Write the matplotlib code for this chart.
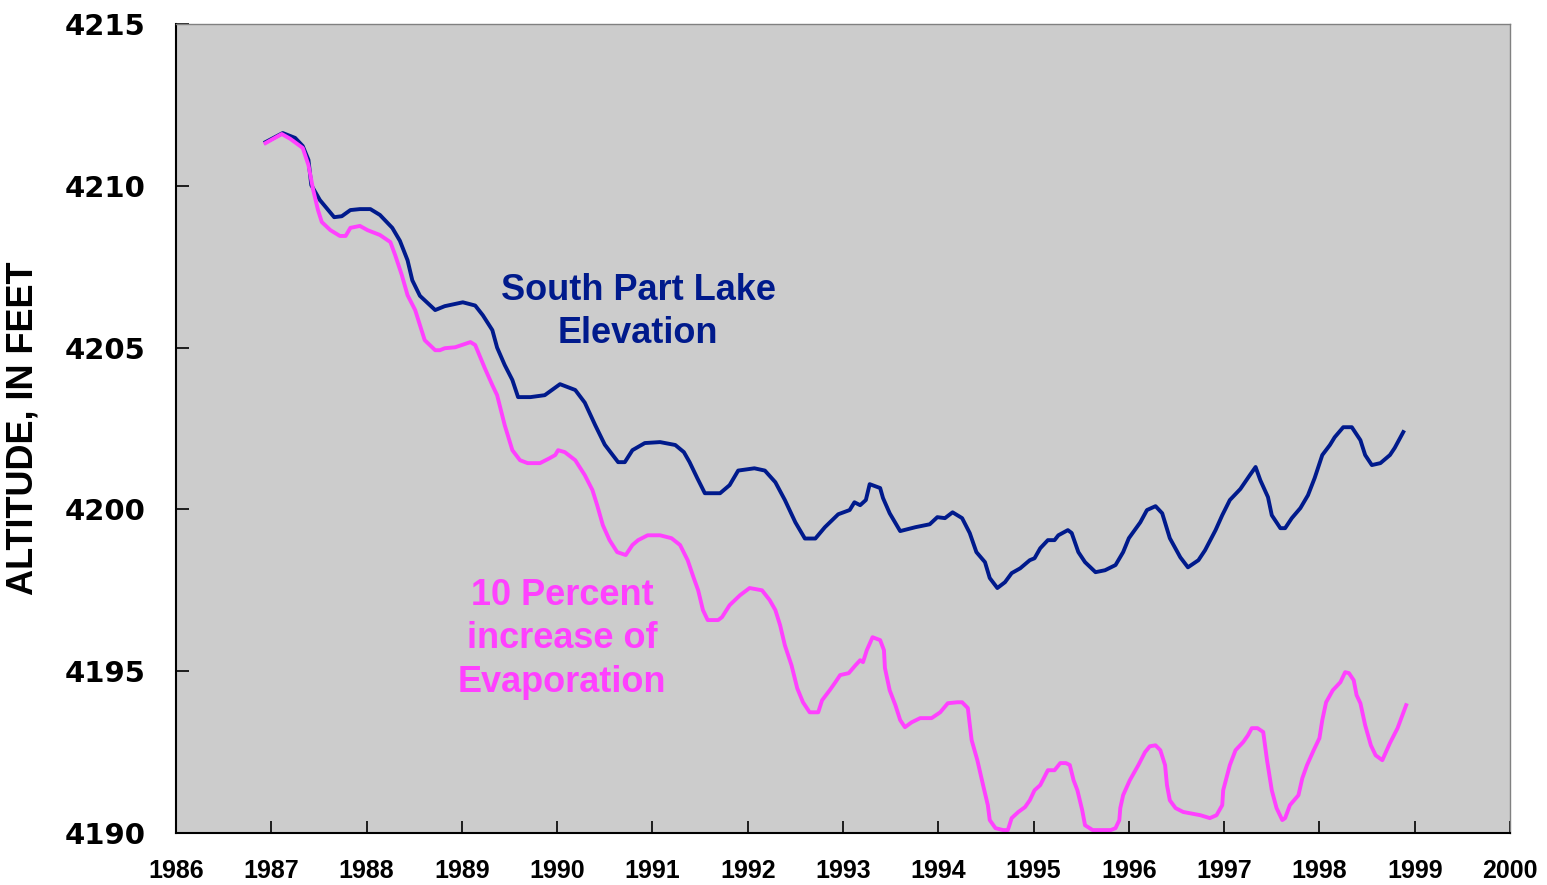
import numpy as np
import matplotlib
matplotlib.use("Agg")
import matplotlib.pyplot as plt

# South Part Lake elevation (decimal year, feet)
lake_year = [1986.94, 1987.12, 1987.25, 1987.33, 1987.39, 1987.42, 1987.51, 1987.66, 1987.74, 1987.83,
             1987.93, 1988.04, 1988.14, 1988.27, 1988.35, 1988.43, 1988.48, 1988.56, 1988.72, 1988.82,
             1989.01, 1989.14, 1989.22, 1989.32, 1989.37, 1989.45, 1989.53, 1989.59, 1989.72, 1989.87,
             1990.03, 1990.19, 1990.29, 1990.40, 1990.50, 1990.64, 1990.71, 1990.79, 1990.92, 1991.08,
             1991.24, 1991.33, 1991.39, 1991.47, 1991.55, 1991.71, 1991.81, 1991.90, 1992.07, 1992.18,
             1992.29, 1992.39, 1992.50, 1992.60, 1992.71, 1992.81, 1992.95, 1993.07, 1993.12, 1993.18,
             1993.24, 1993.28, 1993.39, 1993.42, 1993.49, 1993.60, 1993.76, 1993.91, 1993.99, 1994.07,
             1994.15, 1994.25, 1994.33, 1994.40, 1994.49, 1994.54, 1994.62, 1994.70, 1994.77, 1994.86,
             1994.96, 1995.01, 1995.07, 1995.15, 1995.22, 1995.26, 1995.36, 1995.40, 1995.47, 1995.54,
             1995.65, 1995.75, 1995.86, 1995.94, 1996.00, 1996.12, 1996.19, 1996.28, 1996.35, 1996.43,
             1996.54, 1996.62, 1996.73, 1996.80, 1996.91, 1996.98, 1997.06, 1997.17, 1997.27, 1997.33,
             1997.38, 1997.46, 1997.50, 1997.59, 1997.64, 1997.71, 1997.80, 1997.88, 1997.95, 1998.03,
             1998.11, 1998.16, 1998.25, 1998.34, 1998.43, 1998.48, 1998.55, 1998.64, 1998.74, 1998.79,
             1998.88]
lake_alt = [4211.35, 4211.63, 4211.48, 4211.23, 4210.80, 4210.02, 4209.56, 4209.03, 4209.06, 4209.25,
            4209.28, 4209.28, 4209.10, 4208.70, 4208.30, 4207.70, 4207.08, 4206.60, 4206.16, 4206.28,
            4206.40, 4206.30, 4206.00, 4205.54, 4205.00, 4204.46, 4204.00, 4203.47, 4203.47, 4203.53,
            4203.87, 4203.69, 4203.30, 4202.60, 4202.00, 4201.46, 4201.46, 4201.83, 4202.05, 4202.08,
            4201.99, 4201.77, 4201.46, 4200.97, 4200.50, 4200.50, 4200.75, 4201.20, 4201.27, 4201.20,
            4200.84, 4200.29, 4199.60, 4199.10, 4199.10, 4199.45, 4199.85, 4199.98, 4200.22, 4200.13,
            4200.29, 4200.78, 4200.66, 4200.35, 4199.88, 4199.33, 4199.45, 4199.54, 4199.76, 4199.73,
            4199.91, 4199.73, 4199.27, 4198.68, 4198.37, 4197.88, 4197.57, 4197.75, 4198.03, 4198.18,
            4198.43, 4198.49, 4198.80, 4199.05, 4199.05, 4199.20, 4199.36, 4199.27, 4198.68, 4198.37,
            4198.06, 4198.12, 4198.28, 4198.68, 4199.11, 4199.60, 4199.98, 4200.10, 4199.88, 4199.11,
            4198.52, 4198.21, 4198.43, 4198.74, 4199.36, 4199.82, 4200.29, 4200.63, 4201.06, 4201.31,
            4200.90, 4200.38, 4199.82, 4199.42, 4199.42, 4199.73, 4200.04, 4200.44, 4200.97, 4201.68,
            4201.99, 4202.23, 4202.54, 4202.54, 4202.14, 4201.68, 4201.37, 4201.43, 4201.68, 4201.90,
            4202.39]

# 10 percent increase of evaporation
evap_year = [1986.94, 1987.11, 1987.20, 1987.26, 1987.33, 1987.39, 1987.44, 1987.49, 1987.53, 1987.62,
             1987.72, 1987.78, 1987.83, 1987.93, 1988.01, 1988.14, 1988.25, 1988.30, 1988.37, 1988.43,
             1988.51, 1988.56, 1988.61, 1988.72, 1988.77, 1988.82, 1988.93, 1989.03, 1989.09, 1989.14,
             1989.24, 1989.32, 1989.37, 1989.45, 1989.53, 1989.61, 1989.69, 1989.82, 1989.92, 1989.98,
             1990.01, 1990.08, 1990.19, 1990.29, 1990.37, 1990.42, 1990.48, 1990.55, 1990.63, 1990.72,
             1990.79, 1990.85, 1990.95, 1991.08, 1991.20, 1991.29, 1991.37, 1991.43, 1991.48, 1991.53,
             1991.58, 1991.69, 1991.73, 1991.81, 1991.92, 1992.02, 1992.15, 1992.23, 1992.29, 1992.34,
             1992.39, 1992.46, 1992.52, 1992.58, 1992.65, 1992.74, 1992.78, 1992.86, 1992.92, 1992.97,
             1993.06, 1993.13, 1993.18, 1993.21, 1993.25, 1993.31, 1993.39, 1993.43, 1993.44, 1993.49,
             1993.55, 1993.60, 1993.65, 1993.72, 1993.81, 1993.93, 1994.02, 1994.10, 1994.20, 1994.25,
             1994.31, 1994.35, 1994.41, 1994.47, 1994.52, 1994.54, 1994.60, 1994.68, 1994.73, 1994.77,
             1994.84, 1994.91, 1994.96, 1995.01, 1995.07, 1995.15, 1995.22, 1995.28, 1995.34, 1995.38,
             1995.42, 1995.46, 1995.51, 1995.54, 1995.62, 1995.81, 1995.86, 1995.90, 1995.91, 1995.94,
             1996.01, 1996.10, 1996.17, 1996.22, 1996.28, 1996.33, 1996.38, 1996.40, 1996.43, 1996.49,
             1996.57, 1996.75, 1996.85, 1996.92, 1996.98, 1996.99, 1997.06, 1997.12, 1997.20, 1997.25,
             1997.29, 1997.35, 1997.41, 1997.45, 1997.50, 1997.55, 1997.61, 1997.64, 1997.69, 1997.78,
             1997.82, 1997.87, 1997.94, 1998.00, 1998.03, 1998.07, 1998.14, 1998.22, 1998.27, 1998.31,
             1998.36, 1998.39, 1998.43, 1998.48, 1998.54, 1998.59, 1998.66, 1998.74, 1998.82, 1998.91]
evap_alt = [4211.32, 4211.60, 4211.45, 4211.32, 4211.17, 4210.64, 4209.87, 4209.25, 4208.88, 4208.63,
            4208.45, 4208.45, 4208.70, 4208.76, 4208.63, 4208.48, 4208.26, 4207.86, 4207.24, 4206.62,
            4206.16, 4205.70, 4205.23, 4204.92, 4204.92, 4204.98, 4205.01, 4205.11, 4205.17, 4205.08,
            4204.37, 4203.84, 4203.53, 4202.60, 4201.83, 4201.52, 4201.43, 4201.43, 4201.58, 4201.68,
            4201.83, 4201.77, 4201.52, 4201.06, 4200.60, 4200.13, 4199.51, 4199.05, 4198.68, 4198.59,
            4198.90, 4199.05, 4199.20, 4199.20, 4199.11, 4198.90, 4198.43, 4197.91, 4197.50, 4196.89,
            4196.58, 4196.58, 4196.67, 4197.04, 4197.35, 4197.57, 4197.50, 4197.20, 4196.89, 4196.42,
            4195.80, 4195.18, 4194.47, 4194.04, 4193.73, 4193.73, 4194.10, 4194.41, 4194.66, 4194.88,
            4194.94, 4195.18, 4195.34, 4195.28, 4195.65, 4196.05, 4195.96, 4195.65, 4195.10, 4194.41,
            4193.95, 4193.49, 4193.27, 4193.42, 4193.55, 4193.55, 4193.73, 4194.01, 4194.04, 4194.04,
            4193.86, 4192.87, 4192.25, 4191.48, 4190.86, 4190.40, 4190.15, 4190.09, 4190.09, 4190.46,
            4190.65, 4190.80, 4191.01, 4191.32, 4191.48, 4191.94, 4191.94, 4192.16, 4192.16, 4192.10,
            4191.63, 4191.32, 4190.71, 4190.24, 4190.09, 4190.09, 4190.15, 4190.40, 4190.77, 4191.17,
            4191.63, 4192.10, 4192.50, 4192.68, 4192.71, 4192.56, 4192.10, 4191.48, 4191.01, 4190.77,
            4190.65, 4190.55, 4190.46, 4190.55, 4190.86, 4191.32, 4192.10, 4192.56, 4192.81, 4193.02,
            4193.24, 4193.24, 4193.12, 4192.25, 4191.32, 4190.77, 4190.40, 4190.46, 4190.86, 4191.17,
            4191.69, 4192.10, 4192.56, 4192.93, 4193.49, 4194.04, 4194.41, 4194.66, 4194.97, 4194.94,
            4194.72, 4194.26, 4194.01, 4193.33, 4192.71, 4192.40, 4192.25, 4192.78, 4193.24, 4193.95]

x_ticks = list(range(1986, 2001))
y_ticks = [4190, 4195, 4200, 4205, 4210, 4215]

blue = "#001a8c"
pink = "#ff40ff"

fig = plt.figure(figsize=(15.47, 8.85), dpi=100)
ax = fig.add_axes([176 / 1547, 52 / 885, (1510 - 176) / 1547, (833 - 24) / 885])
ax.set_facecolor("#cccccc")

ax.plot(lake_year, lake_alt, color=blue, lw=2.8, solid_joinstyle="round")
ax.plot(evap_year, evap_alt, color=pink, lw=2.8, solid_joinstyle="round")

ax.set_xlim(1986, 2000)
ax.set_ylim(4190, 4215)
ax.set_xticks(x_ticks)
ax.set_yticks(y_ticks)

ax.set_xticklabels([str(v) for v in x_ticks], family="Liberation Sans", fontweight="bold", fontsize=18)
ax.set_yticklabels([str(v) for v in y_ticks], family="DejaVu Sans", fontweight="heavy", fontsize=21)
ax.tick_params(axis="both", direction="in", length=9, width=1.2, color="black")
ax.tick_params(axis="x", pad=19)
ax.tick_params(axis="y", pad=22)

for side in ("left", "bottom"):
    ax.spines[side].set_color("black")
    ax.spines[side].set_linewidth(1.5)
for side in ("top", "right"):
    ax.spines[side].set_color("#808080")
    ax.spines[side].set_linewidth(1.0)

# y label sits near the left edge of the figure
ax.set_ylabel("ALTITUDE, IN FEET", family="Liberation Sans", fontweight="bold", fontsize=26)
ax.yaxis.set_label_coords(-(176 - 41) / (1510 - 176), 0.5)

ax.text(1990.85, 4206.1, "South Part Lake\nElevation", color=blue, fontsize=26, fontweight="bold",
        ha="center", va="center", linespacing=1.32, family="Liberation Sans")
ax.text(1990.05, 4196.0, "10 Percent\nincrease of\nEvaporation", color=pink, fontsize=26,
        fontweight="bold", ha="center", va="center", linespacing=1.32, family="Liberation Sans")

fig.savefig("out.png", dpi=100, facecolor="white")
